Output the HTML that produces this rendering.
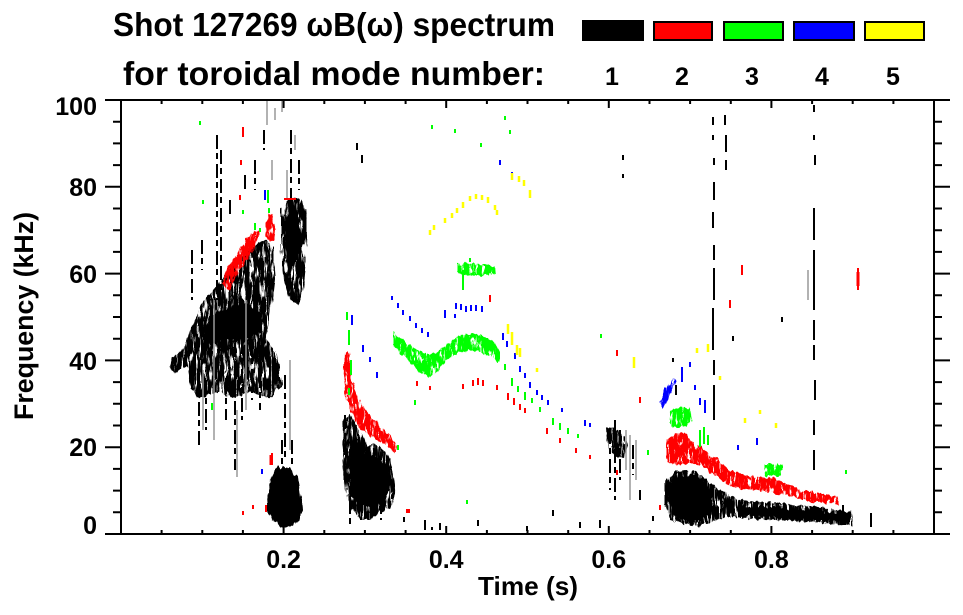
<!DOCTYPE html>
<html><head><meta charset="utf-8">
<style>
html,body{margin:0;padding:0;background:#fff;}
svg{display:block;}
text{font-family:"Liberation Sans",Arial,sans-serif;font-weight:bold;fill:#000;}
</style></head>
<body>
<svg width="963" height="615" viewBox="0 0 963 615" xmlns="http://www.w3.org/2000/svg">
<defs>
<clipPath id="clip"><rect x="121" y="100" width="813" height="434"/></clipPath>
<filter id="sp" filterUnits="userSpaceOnUse" x="100" y="90" width="860" height="450" color-interpolation-filters="sRGB">
  <feTurbulence type="fractalNoise" baseFrequency="0.55 0.05" numOctaves="2" seed="7" result="t"/>
  <feColorMatrix in="t" type="matrix" values="0 0 0 0 0  0 0 0 0 0  0 0 0 0 0  9 0 0 0 -3.0" result="m"/>
  <feComposite in="SourceGraphic" in2="m" operator="in" result="c"/>
  <feTurbulence type="fractalNoise" baseFrequency="0.25 0.05" numOctaves="2" seed="3" result="d"/>
  <feDisplacementMap in="c" in2="d" scale="6" xChannelSelector="R" yChannelSelector="G"/>
</filter>
<filter id="sp2" filterUnits="userSpaceOnUse" x="100" y="90" width="860" height="450" color-interpolation-filters="sRGB">
  <feTurbulence type="fractalNoise" baseFrequency="0.6 0.08" numOctaves="2" seed="11" result="t"/>
  <feColorMatrix in="t" type="matrix" values="0 0 0 0 0  0 0 0 0 0  0 0 0 0 0  9 0 0 0 -2.7" result="m"/>
  <feComposite in="SourceGraphic" in2="m" operator="in" result="c"/>
  <feTurbulence type="fractalNoise" baseFrequency="0.25 0.08" numOctaves="2" seed="5" result="d"/>
  <feDisplacementMap in="c" in2="d" scale="6" xChannelSelector="R" yChannelSelector="G"/>
</filter>
<filter id="rf" filterUnits="userSpaceOnUse" x="100" y="90" width="860" height="450" color-interpolation-filters="sRGB">
  <feTurbulence type="fractalNoise" baseFrequency="0.25 0.06" numOctaves="2" seed="2" result="d"/>
  <feDisplacementMap in="SourceGraphic" in2="d" scale="8" xChannelSelector="R" yChannelSelector="G"/>
</filter>
</defs>

<!-- Title -->
<text x="113" y="36" font-size="33" textLength="442" lengthAdjust="spacingAndGlyphs">Shot 127269 ωB(ω) spectrum</text>
<text x="123" y="85" font-size="33" textLength="422" lengthAdjust="spacingAndGlyphs">for toroidal mode number:</text>

<!-- Legend -->
<rect x="582" y="20" width="62" height="21" fill="#000"/>
<rect x="654" y="22" width="58" height="18" fill="#ff0000" stroke="#000" stroke-width="2"/>
<rect x="724" y="22" width="59" height="18" fill="#00ff00" stroke="#000" stroke-width="2"/>
<rect x="794" y="22" width="60" height="18" fill="#0000ff" stroke="#000" stroke-width="2"/>
<rect x="865" y="22" width="59" height="18" fill="#ffff00" stroke="#000" stroke-width="2"/>
<g font-size="25" text-anchor="middle">
<text x="612" y="85">1</text><text x="682" y="85">2</text><text x="752" y="85">3</text><text x="822" y="85">4</text><text x="893" y="85">5</text>
</g>

<!-- Data -->
<g clip-path="url(#clip)">
 <g filter="url(#sp)" fill="#000">
  <polygon points="168,367 172,358 180,352 186,343 190,330 196,318 204,300 214,290 222,278 230,268 240,258 250,250 258,243 266,240 273,248 275,275 272,300 268,330 262,345 250,352 240,354 228,352 215,354 205,360 195,362 185,368 175,372"/>
  <polygon points="281,210 288,200 298,197 305,205 307,230 306,260 303,290 300,305 290,300 284,280 281,250"/>
  <polygon points="343,420 350,415 360,430 368,445 378,445 388,455 393,475 395,495 390,508 380,512 370,520 360,520 350,505 345,490 342,460"/>
  <polygon points="665,482 675,472 690,470 705,478 715,488 725,493 740,500 760,502 780,503 800,505 820,508 840,510 852,512 853,526 835,524 815,522 795,521 775,520 755,519 740,518 725,517 712,522 700,526 685,524 670,520 665,505"/>
  <polygon points="605,428 614,427 622,434 628,445 624,458 612,455 606,442"/>
  <polygon points="186,362 205,352 230,340 265,338 278,355 282,385 270,398 250,392 235,398 215,392 200,398 190,388"/>
 </g>
 <g filter="url(#rf)" fill="#000">
  <polygon points="203,328 212,315 230,307 250,304 260,312 260,333 245,340 220,341 207,343"/>
  <polygon points="284,220 290,214 298,216 301,235 299,260 292,265 285,258"/>
  <polygon points="270,480 275,470 283,466 292,470 298,478 300,495 302,510 300,520 293,527 283,527 274,522 268,510 267,495"/>
  <polygon points="348,458 358,452 370,455 380,458 388,468 390,490 383,503 370,508 357,503 348,490"/>
  <polygon points="668,485 678,475 692,474 705,482 712,492 712,512 700,520 685,520 672,515"/>
  <polygon points="740,506 800,509 850,515 850,522 800,519 740,515"/>
 </g>
 <!-- coloured bands -->
 <g filter="url(#sp2)">
  <polygon fill="#ff0000" points="345,352 349,352 351,375 355,392 362,405 372,418 382,428 392,438 398,447 395,452 385,445 372,437 360,428 352,415 347,400 344,380"/>
  <polygon fill="#ff0000" points="222,284 226,272 233,260 240,248 247,238 254,230 260,232 256,245 249,257 242,268 235,280 229,290"/>
  <ellipse fill="#ff0000" cx="270" cy="228" rx="5" ry="14"/>
  <polygon fill="#00ff00" points="393,333 403,340 412,347 422,352 432,355 442,348 452,340 462,335 472,333 482,336 492,340 499,348 499,362 490,355 480,352 470,350 460,352 450,357 440,368 430,377 420,372 410,362 400,352 393,345"/>
  <polygon fill="#00ff00" points="457,264 470,263 485,265 495,267 496,274 485,275 470,276 457,273"/>
  <polygon fill="#ff0000" points="667,440 675,433 685,433 692,440 700,447 710,455 720,462 730,470 745,475 760,477 775,479 790,484 800,490 812,492 825,494 838,497 840,505 825,503 810,502 795,497 780,494 765,492 750,490 735,488 722,480 710,472 700,466 690,463 678,465 667,462"/>
  <polygon fill="#00ff00" points="668,412 678,407 690,408 692,420 685,427 672,427 668,422"/>
  <rect fill="#00ff00" x="765" y="464" width="17" height="12"/>
  <polygon fill="#0000ff" points="660,402 663,392 668,384 672,378 676,380 673,390 668,400 664,407"/>
 </g>
 <!-- black streaks -->
 <path fill="none" stroke="#000" stroke-width="2" stroke-dasharray="14 4 6 5" d="M217 135V300 M221 150V290 M199 373V445 M192 250V300 M235 343V470 M242 340V420 M252 340V400 M260 345V410 M285 375V460 M291 130V200 M299 160V190 M255 160V190 M264 130V150 M202 240V270 M345 415V455 M350 500V525 M365 505V522 M381 500V520 M610 430V490 M620 430V480 M633 445V475 M282 440V468 M292 440V465 M615 420V500 M180 355V372 M230 200V215 M245 175V190 M206 380V430 M226 380V420"/>
 <path fill="none" stroke="#999" stroke-width="1.5" d="M214 300V440 M237 410V477 M290 360V450 M626 430V470 M630 435V500 M203 370V430 M246 300V410 M267 100V125 M275 108V120 M282 100V112 M808 270V300 M636 440V480 M287 170V200 M272 160V180 M295 135V150"/>
 <path fill="none" stroke="#000" stroke-width="2" d="M713 117V125 M713 135V140 M714 158V165 M714 182V200 M713 212V228 M714 245V260 M714 268V300 M713 308V350 M714 360V375 M714 385V420 M725 115V125 M726 135V152 M726 160V170 M814 105V112 M814 135V140 M815 155V165 M814 208V240 M814 250V310 M814 320V340 M814 345V360 M815 380V400 M814 420V435 M814 450V470 M623 155V160 M623 174V178 M357 143V150 M362 155V163 M404 517V522 M425 520V530 M432 527V530 M440 523V530 M478 520V526 M553 510V516 M580 522V528 M527 526V531 M600 520V528 M653 516V521 M705 500V510 M843 505V525 M871 513V527 M845 515V525 M782 317V322 M733 336V341 M673 358V362 M676 385V395 M640 490V500"/>
 <!-- red dots -->
 <path fill="none" stroke="#ff0000" stroke-width="2" d="M243 127V137 M241 160V165 M240 195V200 M284 199H296 M272 453V465 M243 511V515 M253 505V509 M266 505V512 M417 381V386 M430 386V390 M463 384V389 M473 380V386 M478 378V385 M483 380V386 M490 295V302 M497 385V390 M508 393V400 M514 398V405 M520 404V410 M525 408V413 M547 428V434 M560 438V443 M576 448V453 M590 455V459 M858 268V290 M742 265V275 M730 300V308 M617 350V356 M640 397V403 M617 470V475 M660 505V510"/>
 <path fill="none" stroke="#ff0000" stroke-width="3" d="M271 455V465 M858 272V286"/>
 <rect x="406" y="509" width="4" height="4" fill="#ff0000"/>
 <!-- green dots -->
 <path fill="none" stroke="#00ff00" stroke-width="2" d="M200 121V125 M203 200V204 M268 190V203 M269 208V213 M243 210V214 M255 223V230 M260 228V232 M212 403V410 M347 312V320 M349 330V345 M351 360V375 M349 388V395 M432 125V129 M455 129V133 M505 116V120 M510 130V134 M481 143V147 M463 270V290 M470 258V262 M505 364V370 M512 378V386 M518 386V392 M525 392V400 M532 398V403 M540 407V412 M553 418V425 M560 423V430 M568 428V434 M578 434V438 M467 500V504 M398 445V450 M415 400V405 M700 430V447 M704 427V444 M708 435V445 M648 450V455 M601 334V338 M846 470V474"/>
 <!-- blue dots -->
 <path fill="none" stroke="#0000ff" stroke-width="2" d="M265 190V200 M262 469V474 M352 315V325 M363 345V352 M370 357V362 M377 372V378 M392 296V300 M398 303V308 M403 310V315 M410 316V321 M416 323V328 M422 328V333 M428 332V337 M445 310V318 M455 314V318 M500 160V165 M512 172V180 M503 333V340 M507 341V347 M515 353V359 M520 366V372 M525 373V378 M530 382V388 M537 390V395 M542 395V400 M548 400V405 M562 408V412 M585 420V426 M590 423V427 M690 362V367 M695 385V390 M682 367V382 M705 400V413 M700 398V405 M738 445V450 M757 438V445 M456 303V309 M461 304V310 M466 306V312 M471 305V311 M476 305V311 M482 306V312"/>
 <!-- yellow dots -->
 <path fill="none" stroke="#ffff00" stroke-width="2.5" d="M430 230V235 M434 225V230 M445 218V223 M452 213V218 M457 208V213 M463 202V208 M470 196V201 M476 194V199 M482 195V200 M488 197V203 M495 205V210 M497 210V215 M512 173V180 M519 176V182 M524 180V186 M530 190V198 M508 324V334 M512 332V345 M517 345V355 M520 348V357 M537 368V372 M634 357V368 M697 348V353 M708 344V352 M720 376V380 M745 418V423 M760 410V414 M776 423V428"/>
</g>

<!-- Axes -->
<rect x="121" y="100" width="813" height="434" fill="none" stroke="#000" stroke-width="2"/>
<path fill="none" stroke="#000" stroke-width="2" d="
M105 100H121 M105 186.8H121 M105 273.6H121 M105 360.4H121 M105 447.2H121 M105 534H121
M113 121.7H121 M113 143.4H121 M113 165.1H121 M113 208.5H121 M113 230.2H121 M113 251.9H121 M113 295.3H121 M113 317H121 M113 338.7H121 M113 382.1H121 M113 403.8H121 M113 425.5H121 M113 468.9H121 M113 490.6H121 M113 512.3H121
M934 100H950 M934 186.8H950 M934 273.6H950 M934 360.4H950 M934 447.2H950 M934 534H950
M934 121.7H942 M934 143.4H942 M934 165.1H942 M934 208.5H942 M934 230.2H942 M934 251.9H942 M934 295.3H942 M934 317H942 M934 338.7H942 M934 382.1H942 M934 403.8H942 M934 425.5H942 M934 468.9H942 M934 490.6H942 M934 512.3H942
M283.6 534V526 M446.2 534V526 M608.8 534V526 M771.4 534V526
M161.6 534V530 M202.3 534V530 M242.9 534V530 M324.3 534V530 M364.9 534V530 M405.6 534V530 M486.9 534V530 M527.5 534V530 M568.2 534V530 M649.5 534V530 M690.1 534V530 M730.8 534V530 M812.1 534V530 M852.7 534V530 M893.4 534V530
M283.6 100V108 M446.2 100V108 M608.8 100V108 M771.4 100V108
M161.6 100V104 M202.3 100V104 M242.9 100V104 M324.3 100V104 M364.9 100V104 M405.6 100V104 M486.9 100V104 M527.5 100V104 M568.2 100V104 M649.5 100V104 M690.1 100V104 M730.8 100V104 M812.1 100V104 M852.7 100V104 M893.4 100V104"/>

<!-- Tick labels -->
<g font-size="25" text-anchor="end">
<text x="97" y="115">100</text>
<text x="97" y="196">80</text>
<text x="97" y="283">60</text>
<text x="97" y="370">40</text>
<text x="97" y="456">20</text>
<text x="97" y="534">0</text>
</g>
<g font-size="25" text-anchor="middle">
<text x="283.6" y="568">0.2</text>
<text x="446.2" y="568">0.4</text>
<text x="608.8" y="568">0.6</text>
<text x="771.4" y="568">0.8</text>
</g>
<text x="528" y="595" font-size="26" text-anchor="middle" textLength="100" lengthAdjust="spacingAndGlyphs">Time (s)</text>
<text transform="translate(33,316) rotate(-90)" font-size="27" text-anchor="middle" textLength="208" lengthAdjust="spacingAndGlyphs">Frequency (kHz)</text>
</svg>
</body></html>
